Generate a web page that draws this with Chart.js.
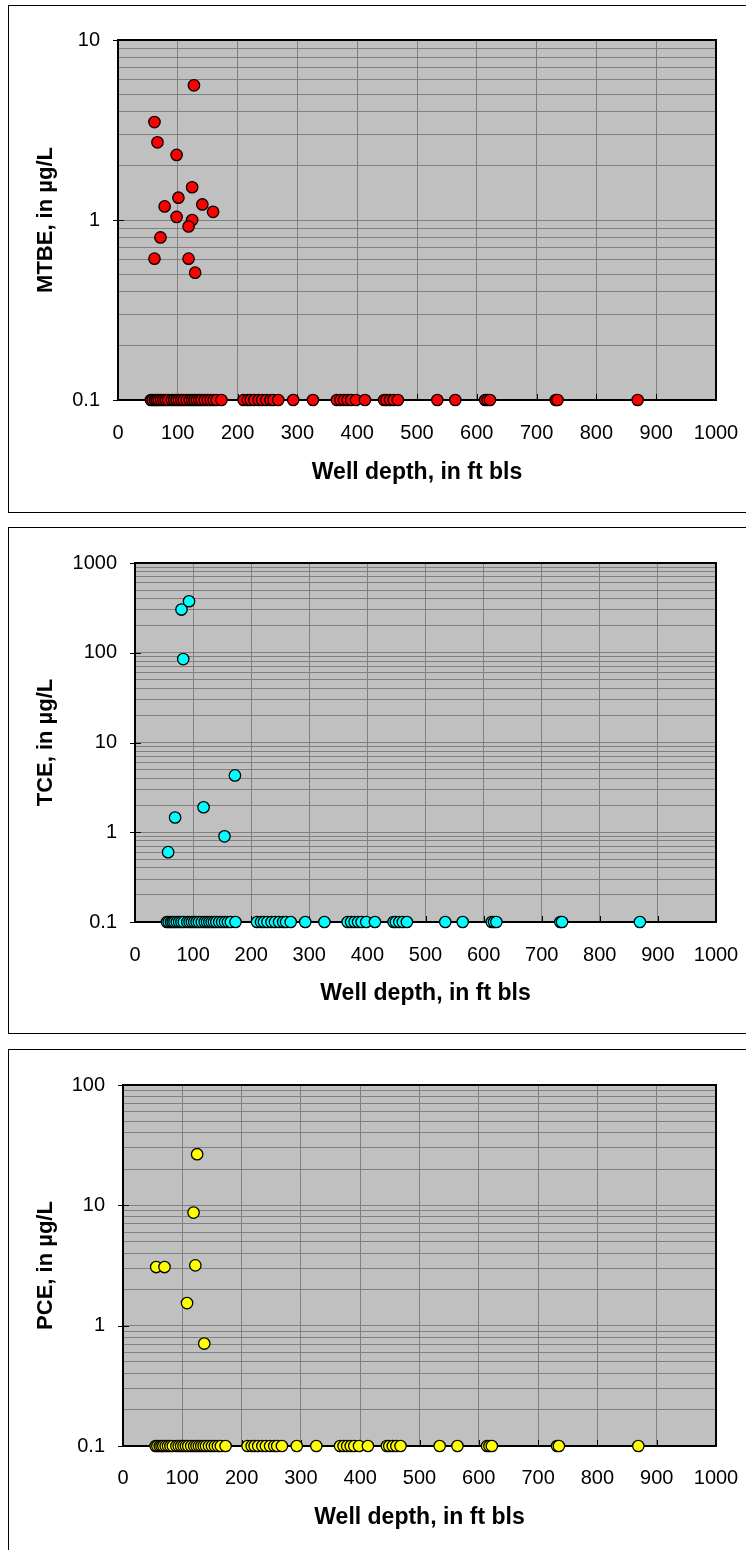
<!DOCTYPE html>
<html>
<head>
<meta charset="utf-8">
<script src="https://cdn.jsdelivr.net/npm/chart.js@4.4.1/dist/chart.umd.min.js"></script>
<style>
  html, body { margin: 0; padding: 0; background: #fff; }
  body { width: 746px; height: 1550px; position: relative; overflow: hidden; }
  .frame { position: absolute; left: 8px; width: 800px; border: 1px solid #000; box-sizing: border-box; }
  canvas { position: absolute; left: 0; }
</style>
</head>
<body>
<div class="frame" style="top:5px;height:508px"></div>
<div class="frame" style="top:527px;height:507px"></div>
<div class="frame" style="top:1049px;height:600px"></div>
<canvas id="mtbeChart" width="746" height="520" style="top:0"></canvas>
<canvas id="tceChart" width="746" height="520" style="top:520px"></canvas>
<canvas id="pceChart" width="746" height="510" style="top:1040px"></canvas>
<script>
// глубины всех скважин (ft bls); необнаруженные значения рисуются на 0.1
const wellDepths = [55, 58, 62, 65, 68, 72, 76, 80, 84, 90, 94, 98, 102, 106, 110, 115, 120, 124, 128, 132,
    136, 140, 145, 150, 155, 160, 165, 173, 210, 217, 222, 228, 235, 241, 248, 255, 260, 268, 293, 326,
    366, 372, 378, 384, 390, 398, 413, 445, 449, 455, 461, 468, 534, 564, 614, 618, 622, 732, 735, 869];
const nonDetectValue = 0.1;

// MTBE
const mtbeDepths = [127, 61, 66, 98, 124, 101, 78, 141, 159, 98, 124, 118, 71, 61, 118, 129];
const mtbeValues = [5.6, 3.5, 2.7, 2.3, 1.52, 1.33, 1.19, 1.22, 1.11, 1.04, 1.0, 0.92, 0.8, 0.61, 0.61, 0.51];

// TCE
const tceDepths = [80, 93, 83, 172, 118, 69, 154, 57];
const tceValues = [303, 375, 85, 4.3, 1.9, 1.46, 0.9, 0.6];

// PCE
const pceDepths = [125, 119, 56, 70, 122, 108, 137];
const pceValues = [26.6, 8.7, 3.07, 3.07, 3.17, 1.54, 0.71];

// подписи осей
const xTicks = [0, 100, 200, 300, 400, 500, 600, 700, 800, 900, 1000];
const mtbeDecades = [0.1, 1, 10];
const tceDecades = [0.1, 1, 10, 100, 1000];
const pceDecades = [0.1, 1, 10, 100];

const FONT = '"Liberation Sans", Arial, sans-serif';
const PLOT_RIGHT = 716;

const panels = [
    { id: 'mtbeChart', title: 'MTBE, in µg/L', color: '#ff0000', depths: mtbeDepths, values: mtbeValues,
      decades: mtbeDecades, height: 520, plotTop: 40, plotBottom: 400, plotLeft: 118, tickPad: 21, titleY: 472.7 },
    { id: 'tceChart', title: 'TCE, in µg/L', color: '#00ffff', depths: tceDepths, values: tceValues,
      decades: tceDecades, height: 520, plotTop: 43, plotBottom: 402, plotLeft: 135, tickPad: 21, titleY: 473.3 },
    { id: 'pceChart', title: 'PCE, in µg/L', color: '#ffff00', depths: pceDepths, values: pceValues,
      decades: pceDecades, height: 510, plotTop: 45, plotBottom: 406, plotLeft: 123, tickPad: 20, titleY: 478 }
];

// линии сетки: 1..9 в каждой декаде
function logGrid(decades) {
    const ticks = [];
    for (let i = 0; i < decades.length - 1; i++) {
        for (let k = 1; k < 10; k++) {
            ticks.push(+(decades[i] * k).toPrecision(3));
        }
    }
    ticks.push(decades[decades.length - 1]);
    return ticks;
}

// убираем добавочные поля от подписей, чтобы область графика была там, где нужно
function noLabelPadding(s) {
    s.paddingLeft = 0;
    s.paddingRight = 0;
    s.paddingTop = 0;
    s.paddingBottom = 0;
}

// серый фон, рамка и короткие засечки
const plotBox = {
    id: 'plotBox',
    beforeDraw(chart) {
        const { ctx, chartArea: a } = chart;
        ctx.save();
        ctx.fillStyle = '#c0c0c0';
        ctx.fillRect(a.left, a.top, a.width, a.height);
        ctx.restore();
    },
    beforeDatasetsDraw(chart) {
        const { ctx, chartArea: a, scales } = chart;
        ctx.save();
        ctx.strokeStyle = '#000';
        ctx.lineWidth = 1;
        ctx.beginPath();
        scales.x.ticks.forEach(t => {
            const px = Math.round(scales.x.getPixelForValue(t.value)) + 0.5;
            ctx.moveTo(px, a.bottom);
            ctx.lineTo(px, a.bottom - 6);
        });
        scales.y.ticks.filter(t => t.label !== '').forEach(t => {
            const py = Math.round(scales.y.getPixelForValue(t.value)) + 0.5;
            ctx.moveTo(a.left - 5, py);
            ctx.lineTo(a.left + 6, py);
        });
        ctx.stroke();
        ctx.lineWidth = 2;
        ctx.strokeRect(a.left, a.top, a.width, a.height);
        ctx.restore();
    }
};

function makeChart(p) {
    const tickFont = { family: FONT, size: 20 };
    const xTitleFont = { family: FONT, size: 23, weight: 'bold' };
    const yTitleFont = { family: FONT, size: 22, weight: 'bold' };
    const pointStyle = {
        backgroundColor: p.color,
        borderColor: '#000',
        borderWidth: 1.3,
        pointRadius: 5.7,
        clip: false
    };

    new Chart(document.getElementById(p.id), {
        type: 'scatter',
        data: {
            datasets: [
                Object.assign({ data: wellDepths.map(d => ({ x: d, y: nonDetectValue })) }, pointStyle),
                Object.assign({ data: p.depths.map((d, i) => ({ x: d, y: p.values[i] })) }, pointStyle)
            ]
        },
        options: {
            responsive: false,
            animation: false,
            events: [],
            layout: { padding: { top: p.plotTop, right: 746 - PLOT_RIGHT, left: 0, bottom: 0 } },
            plugins: { legend: { display: false }, tooltip: { enabled: false } },
            scales: {
                x: {
                    type: 'linear',
                    min: 0,
                    max: 1000,
                    afterBuildTicks: s => { s.ticks = xTicks.map(v => ({ value: v })); },
                    afterFit: s => { s.height = p.height - p.plotBottom; noLabelPadding(s); },
                    ticks: { autoSkip: false, maxRotation: 0, padding: p.tickPad, font: tickFont, color: '#000',
                             callback: v => String(v) },
                    grid: { color: '#808080', lineWidth: 1, drawTicks: false },
                    border: { display: false },
                    title: { display: true, text: 'Well depth, in ft bls', color: '#000', font: xTitleFont,
                             padding: { top: 0, bottom: p.height - p.titleY - xTitleFont.size * 0.6 } }
                },
                y: {
                    type: 'logarithmic',
                    min: p.decades[0],
                    max: p.decades[p.decades.length - 1],
                    afterBuildTicks: s => { s.ticks = logGrid(p.decades).map(v => ({ value: v })); },
                    afterFit: s => { s.width = p.plotLeft; noLabelPadding(s); },
                    ticks: { autoSkip: false, padding: 18, font: tickFont, color: '#000',
                             callback: v => p.decades.includes(v) ? String(v) : '' },
                    grid: { color: '#808080', lineWidth: 1, drawTicks: false },
                    border: { display: false },
                    title: { display: true, text: p.title, color: '#000', font: yTitleFont,
                             padding: { top: 46 - yTitleFont.size * 0.6, bottom: 0 } }
                }
            }
        },
        plugins: [plotBox]
    });
}

panels.forEach(makeChart);
</script>
</body>
</html>
